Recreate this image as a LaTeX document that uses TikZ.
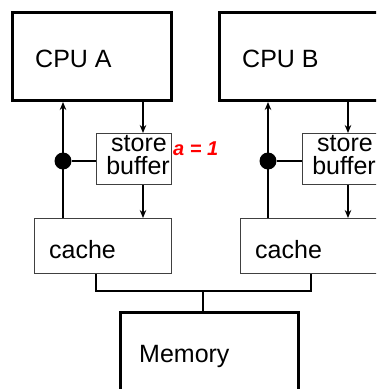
\documentclass[tikz,border=0pt]{standalone}
\usepackage{fontspec}
\setmainfont{Liberation Sans}
\usetikzlibrary{arrows.meta}
\begin{document}
\begin{tikzpicture}[x=1pt,y=-1pt,
  bigbox/.style={draw, line width=3pt, inner sep=0pt, anchor=north west},
  smallbox/.style={draw=black!75, line width=1.1pt, inner sep=0pt, anchor=north west},
  lbl/.style={font=\fontsize{25}{25}\selectfont, inner sep=0pt},
  conn/.style={line width=1.4pt},
  arr/.style={conn, -{Stealth[length=8pt,width=6.5pt]}},
  dotnode/.style={circle, fill=black, minimum size=17pt, inner sep=0pt}]
\useasboundingbox (0,0) rectangle (376,389);
\clip (0,0) rectangle (376,389);
% boxes
\node[bigbox, minimum width=159pt, minimum height=88pt] (cpuA) at (11,11) {};
\node[bigbox, minimum width=170pt, minimum height=88pt] (cpuB) at (218,11) {};
\node[smallbox, minimum width=75pt, minimum height=51pt] (sbA) at (96,133) {};
\node[smallbox, minimum width=80pt, minimum height=51pt] (sbB) at (302,133) {};
\node[smallbox, minimum width=137pt, minimum height=55pt] (cacheA) at (34,218) {};
\node[smallbox, minimum width=145pt, minimum height=55pt] (cacheB) at (240,218) {};
\node[bigbox, minimum width=178pt, minimum height=90pt] (mem) at (119,311) {};
% labels
\node[lbl, anchor=base west] (tA) at (35,67) {CPU A};
\node[lbl, anchor=base west] (tB) at (242,67) {CPU B};
\node[lbl, anchor=base east] (sA1) at (167,151) {store};
\node[lbl, anchor=base east] (sA2) at (170,174) {buffer};
\node[lbl, anchor=base east] (sB1) at (373,151) {store};
\node[lbl, anchor=base east] (sB2) at (376,174) {buffer};
\node[lbl, anchor=base west] (cA) at (49,258) {cache};
\node[lbl, anchor=base west] (cB) at (255,258) {cache};
\node[lbl, anchor=base west] (tM) at (139,362) {Memory};
\node[text=red, inner sep=0pt, anchor=base west, font=\fontsize{20}{20}\selectfont\bfseries\itshape] (note) at (173,155) {a = 1};
% dots
\node[dotnode] (dotA) at (63,161) {};
\node[dotnode] (dotB) at (268,161) {};
% connectors
\coordinate (dnA) at (143,0);
\coordinate (dnB) at (348,0);
\draw[arr] (dotA |- cacheA.north) -- (dotA |- cpuA.south);
\draw[arr] (dnA |- cpuA.south) -- (dnA |- sbA.north);
\draw[arr] (dnA |- sbA.south) -- (dnA |- cacheA.north);
\draw[conn] (dotA) -- (sbA.west |- dotA);
\draw[arr] (dotB |- cacheB.north) -- (dotB |- cpuB.south);
\draw[arr] (dnB |- cpuB.south) -- (dnB |- sbB.north);
\draw[arr] (dnB |- sbB.south) -- (dnB |- cacheB.north);
\draw[conn] (dotB) -- (sbB.west |- dotB);
% bus
\coordinate (busA) at (96,291);
\coordinate (busB) at (311,291);
\coordinate (busM) at (203,291);
\draw[conn] (busA |- cacheA.south) -- (busA) -- (busB) -- (busB |- cacheB.south);
\draw[conn] (busM) -- (busM |- mem.north);
\end{tikzpicture}
\end{document}
